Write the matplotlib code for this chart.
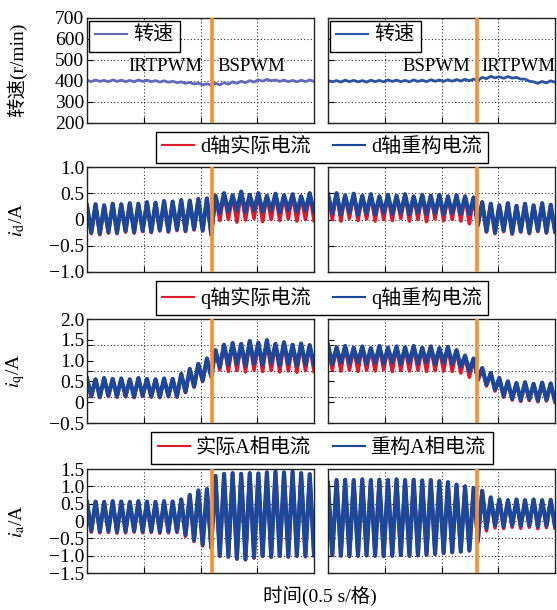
import numpy as np
import matplotlib
matplotlib.use('Agg')
import matplotlib.pyplot as plt
from matplotlib import rcParams

# 配置
config = {
    "font.family": ['Liberation Serif', 'Noto Sans CJK SC'],
    "font.size": 14,
    "mathtext.fontset": 'stix',
    'axes.unicode_minus': True,
}
rcParams.update(config)

# 每个通道按周期记录波峰(hi)和波谷(lo)，时间轴 0~2 s (0.5 s/格)
t_switch = [1.10, 1.31]  # 左: IRTPWM->BSPWM, 右: BSPWM->IRTPWM

# 转速 (r/min)
n_left_hi = [403, 404, 402, 404, 403, 402, 404, 403, 401, 400, 398, 395, 392, 388,
             386, 388, 391, 395, 398, 401, 405, 407, 404, 403, 402, 403, 404]
n_left_lo = [396, 397, 396, 397, 396, 395, 397, 396, 394, 393, 391, 388, 385, 381,
             379, 381, 384, 388, 391, 394, 398, 400, 397, 396, 395, 396, 397]
n_right_hi = [402, 401, 403, 402, 401, 403, 402, 404, 403, 402, 404, 403, 405, 404,
              405, 406, 407, 408, 416, 421, 419, 420, 416, 408, 395, 397, 400]
n_right_lo = [395, 394, 396, 395, 394, 396, 395, 397, 396, 395, 397, 396, 398, 397,
              398, 399, 400, 402, 410, 414, 412, 413, 408, 398, 388, 390, 393]

# d轴电流 (A)
id_left_hi = [0.27, 0.29, 0.27, 0.30, 0.29, 0.31, 0.30, 0.33, 0.32, 0.35, 0.34, 0.37,
              0.36, 0.39, 0.40, 0.45, 0.50, 0.46, 0.53, 0.47, 0.50, 0.45, 0.49, 0.46,
              0.48, 0.44, 0.50]
id_left_lo = [-0.25, -0.27, -0.24, -0.25, -0.22, -0.24, -0.21, -0.23, -0.20, -0.22,
              -0.19, -0.21, -0.18, -0.20, -0.28, 0.12, 0.15, 0.17, 0.14, 0.18, 0.15,
              0.17, 0.14, 0.18, 0.15, 0.17, 0.14]
id_left_lo_ref = [-0.27, -0.29, -0.26, -0.27, -0.24, -0.26, -0.23, -0.25, -0.22, -0.24,
                  -0.21, -0.23, -0.20, -0.22, -0.30, -0.02, 0.00, -0.05, -0.01, 0.02,
                  -0.04, 0.00, -0.02, 0.01, -0.03, 0.00, -0.02]
id_right_hi = [0.48, 0.50, 0.46, 0.49, 0.45, 0.48, 0.44, 0.47, 0.45, 0.48, 0.44, 0.47,
               0.45, 0.47, 0.44, 0.46, 0.44, 0.42, 0.33, 0.30, 0.27, 0.31, 0.26, 0.30,
               0.27, 0.31, 0.28]
id_right_lo = [0.12, 0.10, 0.13, 0.09, 0.12, 0.10, 0.13, 0.11, 0.12, 0.10, 0.13, 0.11,
               0.12, 0.10, 0.12, 0.11, 0.10, -0.10, -0.22, -0.25, -0.21, -0.26, -0.22,
               -0.25, -0.21, -0.24, -0.22]
id_right_lo_ref = [0.00, -0.03, 0.02, -0.02, 0.01, -0.03, 0.00, -0.02, 0.02, -0.03, 0.00,
                   -0.04, 0.01, -0.02, 0.00, -0.03, -0.08, -0.12, -0.24, -0.27, -0.23,
                   -0.28, -0.24, -0.27, -0.23, -0.26, -0.24]

# q轴电流 (A)
iq_left_hi = [0.57, 0.55, 0.58, 0.56, 0.57, 0.55, 0.58, 0.56, 0.55, 0.57, 0.56, 0.68,
              0.80, 0.92, 1.05, 1.25, 1.38, 1.42, 1.40, 1.47, 1.43, 1.49, 1.40, 1.44,
              1.38, 1.41, 1.37]
iq_left_lo = [0.15, 0.13, 0.16, 0.14, 0.15, 0.13, 0.16, 0.14, 0.13, 0.15, 0.14, 0.25,
              0.38, 0.52, 0.62, 0.85, 0.90, 0.92, 0.88, 0.93, 0.90, 0.94, 0.89, 0.92,
              0.88, 0.91, 0.90]
iq_left_lo_ref = [0.13, 0.11, 0.14, 0.12, 0.13, 0.11, 0.14, 0.12, 0.11, 0.13, 0.12, 0.23,
                  0.36, 0.50, 0.60, 0.78, 0.74, 0.76, 0.73, 0.77, 0.74, 0.76, 0.73, 0.75,
                  0.72, 0.76, 0.74]
iq_right_hi = [1.38, 1.32, 1.35, 1.31, 1.34, 1.30, 1.35, 1.31, 1.34, 1.32, 1.35, 1.31,
               1.34, 1.30, 1.33, 1.25, 1.12, 1.05, 0.82, 0.70, 0.58, 0.50, 0.46, 0.48,
               0.44, 0.47, 0.45]
iq_right_lo = [0.92, 0.95, 0.93, 0.96, 0.92, 0.95, 0.93, 0.96, 0.92, 0.95, 0.93, 0.96,
               0.92, 0.95, 0.92, 0.85, 0.75, 0.55, 0.42, 0.30, 0.15, 0.08, 0.05, 0.07,
               0.04, 0.06, 0.03]
iq_right_lo_ref = [0.78, 0.75, 0.77, 0.74, 0.77, 0.75, 0.78, 0.74, 0.76, 0.75, 0.77, 0.74,
                   0.76, 0.75, 0.74, 0.70, 0.60, 0.52, 0.39, 0.27, 0.12, 0.05, 0.02, 0.04,
                   0.01, 0.03, 0.00]

# A相电流 (A)
ia_left_hi = [0.55, 0.56, 0.55, 0.57, 0.56, 0.55, 0.57, 0.56, 0.55, 0.57, 0.56, 0.62,
              0.75, 0.88, 0.92, 1.30, 1.36, 1.38, 1.36, 1.38, 1.37, 1.40, 1.42, 1.40,
              1.42, 1.38, 1.35]
ia_left_lo = [-0.28, -0.30, -0.29, -0.31, -0.30, -0.28, -0.30, -0.29, -0.31, -0.30,
              -0.29, -0.40, -0.55, -0.68, -0.75, -1.00, -1.02, -1.08, -1.10, -1.05,
              -1.00, -1.03, -1.00, -1.02, -1.00, -1.01, -0.98]
ia_left_lo_ref = [-0.32, -0.34, -0.33, -0.35, -0.34, -0.32, -0.34, -0.33, -0.35, -0.34,
                  -0.33, -0.44, -0.59, -0.72, -0.79, -1.02, -1.04, -1.10, -1.12, -1.07,
                  -1.02, -1.05, -1.02, -1.04, -1.02, -1.03, -1.00]
ia_right_hi = [1.10, 1.18, 1.19, 1.18, 1.20, 1.18, 1.19, 1.18, 1.20, 1.18, 1.19, 1.17,
               1.18, 1.15, 1.12, 1.05, 1.00, 0.95, 0.87, 0.68, 0.62, 0.60, 0.62, 0.60,
               0.62, 0.60, 0.61]
ia_right_lo = [-0.98, -1.00, -1.01, -1.00, -0.99, -1.00, -1.01, -1.00, -0.98, -1.00,
               -0.99, -0.97, -0.95, -0.92, -0.90, -0.88, -0.85, -0.55, -0.20, -0.12,
               -0.15, -0.12, -0.14, -0.12, -0.15, -0.13, -0.14]
ia_right_lo_ref = [-0.99, -1.01, -1.02, -1.01, -1.00, -1.01, -1.02, -1.01, -0.99, -1.01,
                   -1.00, -0.98, -0.96, -0.93, -0.91, -0.89, -0.86, -0.60, -0.28, -0.20,
                   -0.22, -0.18, -0.21, -0.18, -0.22, -0.19, -0.20]

C_RED = '#e0192c'
C_BLUE = '#1d4899'
C_ORANGE = '#f39132'


def wave(hi, lo):
    y = np.empty(len(hi) + len(lo))
    y[0::2] = hi
    y[1::2] = lo
    t = np.linspace(0, 2.0, len(y))
    return t, y


def setup(ax, ylim, yticks, ylabels, show_labels, ygrid=None):
    ax.set_xlim(0, 2.0)
    ax.set_ylim(*ylim)
    ax.set_xticks([0.5, 1.0, 1.5])
    ax.set_xticklabels([])
    ax.set_yticks(yticks)
    ax.set_yticklabels(ylabels if show_labels else [])
    if ygrid is None:
        ax.grid(True, ls=(0, (1, 2)), color='#333333', lw=0.8)
    else:
        # 刻度标签与网格分开
        ax.set_yticks(ygrid, minor=True)
        ax.tick_params(axis='y', which='major', length=0)
        ax.tick_params(axis='y', which='minor', direction='in', length=4)
        ax.grid(True, axis='x', ls=(0, (1, 2)), color='#333333', lw=0.8)
        ax.grid(True, axis='y', which='minor', ls=(0, (1, 2)), color='#333333', lw=0.8)
    ax.tick_params(which='major', direction='in', length=4, pad=2)
    for s in ax.spines.values():
        s.set_color('#222222')
        s.set_linewidth(1.0)


def thin_handles(leg):
    for h in leg.get_lines():
        h.set_linewidth(1.5)
    leg.get_frame().set_linewidth(1.0)


fig = plt.figure(figsize=(5.57, 6.10), dpi=100)
W = 557
H = 610
lefts = [87, 328]
rows = [(17.5, 123), (167, 272), (319, 423), (469, 573)]
axes = []
for top, bot in rows:
    r = []
    for l in lefts:
        r.append(fig.add_axes([l / W, 1 - bot / H, 227 / W, (bot - top) / H]))
    axes.append(r)

speed = [(n_left_hi, n_left_lo, '#6468ba'), (n_right_hi, n_right_lo, '#2b52a3')]
id_data = [(id_left_hi, id_left_lo, id_left_lo_ref), (id_right_hi, id_right_lo, id_right_lo_ref)]
iq_data = [(iq_left_hi, iq_left_lo, iq_left_lo_ref), (iq_right_hi, iq_right_lo, iq_right_lo_ref)]
ia_data = [(ia_left_hi, ia_left_lo, ia_left_lo_ref), (ia_right_hi, ia_right_lo, ia_right_lo_ref)]

# 转速
for j, ax in enumerate(axes[0]):
    hi, lo, c = speed[j]
    t, y = wave(hi, lo)
    ax.plot(t, y, color=c, lw=2.0, label='转速')
    setup(ax, (200, 700), [200, 300, 400, 500, 600, 700],
          ['200', '300', '400', '500', '600', '700'], j == 0)
    ax.axvline(t_switch[j], color=C_ORANGE, lw=2.6, zorder=5)
    leg = ax.legend(loc='upper left', bbox_to_anchor=(0.0, 0.99), frameon=True, fancybox=False,
                    edgecolor='black', framealpha=1, handlelength=1.6, handletextpad=0.3,
                    borderpad=0.3, borderaxespad=0.1, fontsize=14.5)
    thin_handles(leg)
axes[0][0].text(t_switch[0] - 0.08, 470, 'IRTPWM', ha='right', va='center', fontsize=13.5)
axes[0][0].text(t_switch[0] + 0.05, 470, 'BSPWM', ha='left', va='center', fontsize=13.5)
axes[0][1].text(t_switch[1] - 0.06, 470, 'BSPWM', ha='right', va='center', fontsize=13.5)
axes[0][1].text(t_switch[1] + 0.04, 470, 'IRTPWM', ha='left', va='center', fontsize=13.5)
axes[0][0].set_ylabel('转速(r/min)')

rows_cfg = [
    (id_data, (-1, 1), [-1, -0.5, 0, 0.5, 1], ['\u22121.0', '\u22120.5', '0', '0.5', '1.0'], None,
     ['d轴实际电流', 'd轴重构电流'], r'$i_{\rm d}$/A', 0.7582),
    (iq_data, (-0.5, 2.0), [-0.5, 0, 0.5, 1.0, 1.5, 2.0],
     ['\u22120.5', '0', '0.5', '1.0', '1.5', '2.0'], [0.125, 0.75, 1.375],
     ['q轴实际电流', 'q轴重构电流'], r'$i_{\rm q}$/A', 0.5115),
    (ia_data, (-1.5, 1.5), [-1.5, -1, -0.5, 0, 0.5, 1, 1.5],
     ['\u22121.5', '\u22121.0', '\u22120.5', '0', '0.5', '1.0', '1.5'], None,
     ['实际A相电流', '重构A相电流'], r'$i_{\rm a}$/A', 0.2656),
]

for k, (data, ylim, yt, yl, yg, names, ylab, ly) in enumerate(rows_cfg):
    for j, ax in enumerate(axes[k + 1]):
        hi, lo, lo_ref = data[j]
        t, y_ref = wave(hi, lo_ref)
        t, y_est = wave(hi, lo)
        l1, = ax.plot(t, y_ref, color=C_RED, lw=2.6)
        l2, = ax.plot(t, y_est, color=C_BLUE, lw=3.0)
        setup(ax, ylim, yt, yl, j == 0, yg)
        ax.axvline(t_switch[j], color=C_ORANGE, lw=2.6, zorder=5)
    axes[k + 1][0].set_ylabel(ylab)
    leg = fig.legend([l1, l2], names, loc='center', bbox_to_anchor=(322 / W, ly), ncol=2,
                     frameon=True, fancybox=False, edgecolor='black', framealpha=1,
                     handlelength=1.6, handletextpad=0.3, columnspacing=1.1, borderpad=0.3,
                     fontsize=14.5)
    thin_handles(leg)

for r in axes:
    r[0].yaxis.set_label_coords(-0.265, 0.5)

fig.text(320 / W, 1 - 596 / H, '时间(0.5 s/格)', ha='center', va='center')

fig.savefig('out.png', dpi=100)
